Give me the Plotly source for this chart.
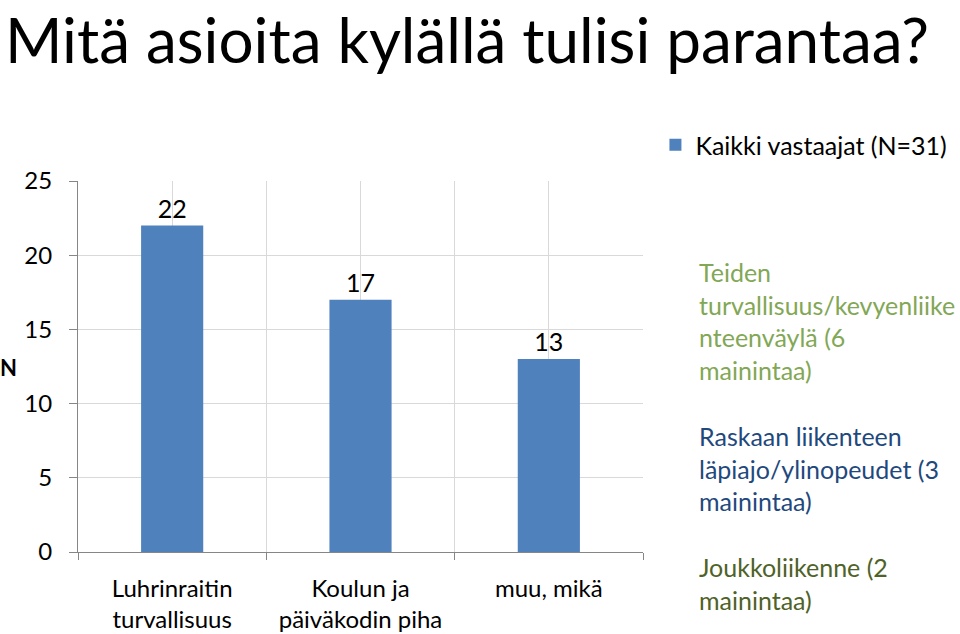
import plotly.graph_objects as go

categories = ["Luhrinraitin<br>turvallisuus", "Koulun ja<br>päiväkodin piha", "muu, mikä"]
values = [22, 17, 13]
series_name = "Kaikki vastaajat (N=31)"
y_ticks = [0, 5, 10, 15, 20, 25]
title = "Mitä asioita kylällä tulisi parantaa?"
notes = [
    ("Teiden<br>turvallisuus/kevyenliike<br>nteenväylä (6<br>mainintaa)", "#82A755", 0.80),
    ("Raskaan liikenteen<br>läpiajo/ylinopeudet (3<br>mainintaa)", "#1F497D", 0.359),
    ("Joukkoliikenne (2<br>mainintaa)", "#4F6228", 0.005),
]

FONT = "Lato"
xpos = list(range(len(categories)))

fig = go.Figure()
fig.add_trace(go.Bar(
    x=xpos, y=values, name=series_name, width=0.33,
    marker=dict(color="#4F81BD", line=dict(width=0)),
    text=[str(v) for v in values], textposition="outside",
    textfont=dict(size=25, color="black", family=FONT),
    cliponaxis=False,
))

fig.update_layout(
    width=960, height=634,
    margin=dict(l=78, r=317, t=181, b=82, autoexpand=False),
    paper_bgcolor="white", plot_bgcolor="white",
    font=dict(family=FONT, color="black"),
    showlegend=True,
    legend=dict(x=1.022, xanchor="left", y=1.097, yanchor="middle",
                font=dict(size=25, family=FONT), bgcolor="rgba(0,0,0,0)"),
    xaxis=dict(
        range=[-0.5, 2.5], tickmode="array", tickvals=xpos, ticktext=categories,
        showgrid=True, gridcolor="#D9D9D9", gridwidth=1,
        ticks="", tickfont=dict(size=24, family=FONT), ticklabelstandoff=15,
        showline=True, linecolor="#868686", linewidth=1, zeroline=False,
        minor=dict(tick0=-0.5, dtick=1, showgrid=True, gridcolor="#D9D9D9",
                   ticks="outside", ticklen=7, tickcolor="#868686"),
        automargin=False, fixedrange=True,
    ),
    yaxis=dict(
        range=[0, 25], tickmode="array", tickvals=y_ticks,
        showgrid=True, gridcolor="#D9D9D9", gridwidth=1,
        ticks="outside", ticklen=8, tickcolor="#868686",
        tickfont=dict(size=24, family=FONT), ticklabelstandoff=12,
        showline=True, linecolor="#868686", linewidth=1, zeroline=False,
        automargin=False, fixedrange=True,
    ),
)

fig.add_annotation(text=title, xref="paper", yref="paper", x=-0.133, y=1.487,
                   xanchor="left", yanchor="top", showarrow=False,
                   font=dict(size=62, family=FONT, color="black"))

fig.add_annotation(text="<b>N</b>", xref="paper", yref="paper", x=-0.123, y=0.496,
                   xanchor="center", yanchor="middle", showarrow=False,
                   font=dict(size=22, family=FONT, color="black"))

for txt, col, yy in notes:
    fig.add_annotation(text=txt, xref="paper", yref="paper", x=1.095, y=yy,
                       xanchor="left", yanchor="top", align="left", showarrow=False,
                       font=dict(size=25, family=FONT, color=col))

fig.write_html("out.html")
